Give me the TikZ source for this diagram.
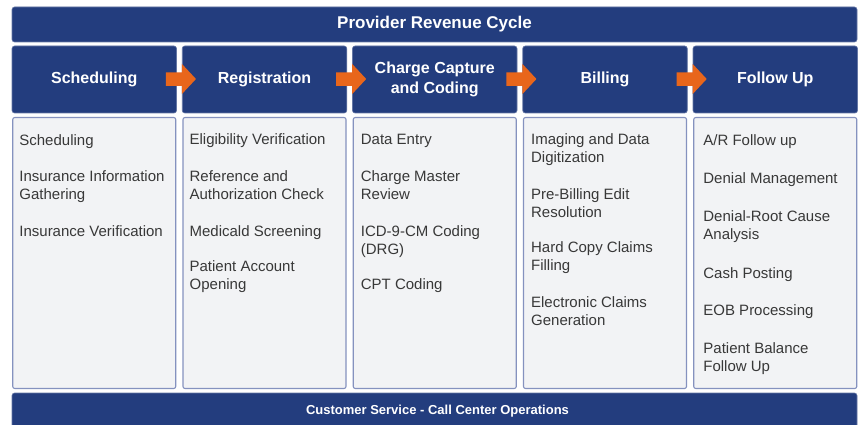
\documentclass[tikz,border=0pt]{standalone}
\usepackage{fontspec}
\setmainfont{Liberation Sans}
\usetikzlibrary{calc}
\definecolor{navy}{HTML}{233D7E}
\definecolor{flow}{HTML}{E8661B}
\definecolor{panel}{HTML}{F2F3F5}
\definecolor{panelline}{HTML}{8592BF}
\definecolor{itemtext}{HTML}{383838}
\begin{document}
\begin{tikzpicture}[x=1pt,y=-1pt,
  bar/.style={fill=navy, draw=navy!70!white, line width=0.6pt, rounded corners=2.5pt, inner sep=0pt, text=white},
  headbox/.style={bar, minimum width=164.5pt, minimum height=67pt, align=center,
                  font=\bfseries\fontsize{16}{20}\selectfont},
  panelbox/.style={fill=panel, draw=panelline, line width=1.1pt, rounded corners=2pt,
                   minimum width=163pt, minimum height=271pt, inner sep=0pt},
  item/.style={anchor=base west, inner sep=0pt, align=left, text=itemtext,
               font=\fontsize{15}{18}\selectfont},
  flowarrow/.style={fill=flow}]
\useasboundingbox (0,0) rectangle (864,425);
\fill[white] (0,0) rectangle (864,425);

% top bar
\node[bar, minimum width=845pt, minimum height=35pt,
      font=\bfseries\fontsize{17}{20}\selectfont] (top) at (434.5,24.5) {Provider Revenue Cycle};

% headers
\node[headbox] (h1) at (94.25,79.5)  {Scheduling};
\node[headbox] (h2) at (264.5,79.5)  {Registration};
\node[headbox] (h3) at (434.75,79.5) {Charge Capture\\and Coding};
\node[headbox] (h4) at (605,79.5)    {Billing};
\node[headbox] (h5) at (775.25,79.5) {Follow Up};

% arrows between headers
\foreach \a/\b in {h1/h2,h2/h3,h3/h4,h4/h5}{
  \fill[flowarrow] ($(\a.east)+(-11,-7)$) -- ($(\b.west)+(0,-7)$) -- ($(\b.west)+(0,-15.5)$)
     -- ($(\b.west)+(14,-0.5)$) -- ($(\b.west)+(0,14.5)$) -- ($(\b.west)+(0,6.5)$)
     -- ($(\a.east)+(-11,6.5)$) -- cycle;
}

% panels
\node[panelbox] (p1) at (94.25,253)  {};
\node[panelbox] (p2) at (264.5,253)  {};
\node[panelbox] (p3) at (434.75,253) {};
\node[panelbox] (p4) at (605,253)    {};
\node[panelbox] (p5) at (775.25,253) {};

% (base anchor of a two-line item is the baseline of its second line)
% column 1
\node[item] (s1) at ($(p1.west |- 0,145)+(7,0)$) {Scheduling};
\node[item] (s2) at ($(p1.west |- 0,199)+(7,0)$) {Insurance Information\\Gathering};
\node[item] (s3) at ($(p1.west |- 0,236)+(7,0)$) {Insurance Verification};

% column 2
\node[item] (r1) at ($(p2.west |- 0,144)+(7,0)$) {Eligibility Verification};
\node[item] (r2) at ($(p2.west |- 0,199)+(7,0)$) {Reference and\\Authorization Check};
\node[item] (r3) at ($(p2.west |- 0,236)+(7,0)$) {Medicald Screening};
\node[item] (r4) at ($(p2.west |- 0,289)+(7,0)$) {Patient Account\\Opening};

% column 3
\node[item] (c1) at ($(p3.west |- 0,144)+(8,0)$) {Data Entry};
\node[item] (c2) at ($(p3.west |- 0,199)+(8,0)$) {Charge Master\\Review};
\node[item] (c3) at ($(p3.west |- 0,254)+(8,0)$) {ICD-9-CM Coding\\(DRG)};
\node[item] (c4) at ($(p3.west |- 0,289)+(8,0)$) {CPT Coding};

% column 4
\node[item] (b1) at ($(p4.west |- 0,162)+(8,0)$) {Imaging and Data\\Digitization};
\node[item] (b2) at ($(p4.west |- 0,217)+(8,0)$) {Pre-Billing Edit\\Resolution};
\node[item] (b3) at ($(p4.west |- 0,270)+(8,0)$) {Hard Copy Claims\\Filling};
\node[item] (b4) at ($(p4.west |- 0,325)+(8,0)$) {Electronic Claims\\Generation};

% column 5
\node[item] (f1) at ($(p5.west |- 0,146)+(10,0)$) {A/R Follow up};
\node[item] (f2) at ($(p5.west |- 0,183)+(10,0)$) {Denial Management};
\node[item] (f3) at ($(p5.west |- 0,239)+(10,0)$) {Denial-Root Cause\\Analysis};
\node[item] (f4) at ($(p5.west |- 0,278)+(10,0)$) {Cash Posting};
\node[item] (f5) at ($(p5.west |- 0,315)+(10,0)$) {EOB Processing};
\node[item] (f6) at ($(p5.west |- 0,371)+(10,0)$) {Patient Balance\\Follow Up};

% bottom bar
\node[bar, minimum width=845pt, minimum height=40pt] (bottom) at (434.5,413) {};
\node[text=white, font=\bfseries\fontsize{13}{15}\selectfont, inner sep=0pt] (bottomlabel) at (437.5,411) {Customer Service - Call Center Operations};
\end{tikzpicture}
\end{document}
